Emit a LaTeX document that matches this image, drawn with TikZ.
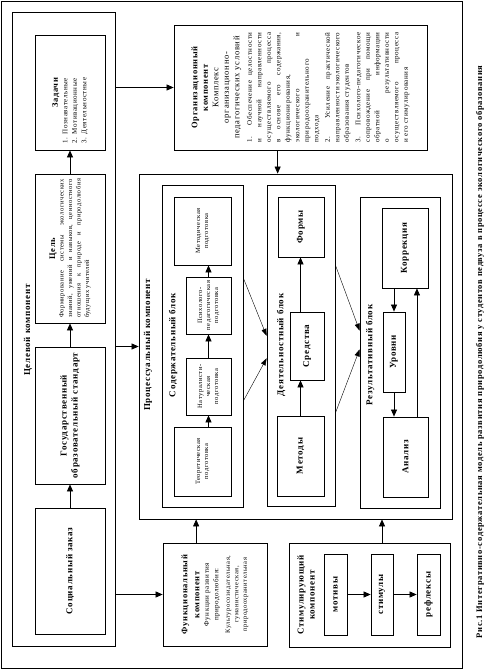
\documentclass[tikz,border=0pt]{standalone}
\usepackage{fontspec}
\setmainfont{Liberation Serif}[LetterSpace=8]
\usepackage{tikz}
\usetikzlibrary{arrows.meta}
\usetikzlibrary{calc}
\tikzset{
    comp_box/.style = {draw=black, line width=0.8pt, rectangle, inner sep=0pt},
    part_box/.style = {comp_box, align=center, font=\bfseries\fontsize{9}{11}\selectfont},
    small_box/.style = {comp_box, align=center, font=\fontsize{6.5}{8}\selectfont},
    head_text/.style = {inner sep=0pt, align=center, font=\bfseries\fontsize{9}{11}\selectfont},
    arr_main/.style = {-{Triangle[length=7pt, width=6pt]}, line width=0.7pt},
    arr_thin/.style = {-{Triangle[length=7pt, width=5pt]}, line width=0.4pt}
}

\begin{document}
\begin{tikzpicture}[x=1pt, y=1pt]
    \useasboundingbox (0,0) rectangle (498,670);
    \begin{scope}[shift={(498,0)}, rotate=90, transform shape]

    \node[comp_box, minimum width=667pt, minimum height=461pt] (frame) at (335.5,266.5) {};

    % goal component
    \node[comp_box, minimum width=634pt, minimum height=103pt] (goal) at (341,434.5) {};
    \node[head_text] (goal_title) at (340,470) {Целевой компонент};
    \node[part_box, minimum width=126pt, minimum height=70pt] (order) at (99,428) {Социальный заказ};
    \node[part_box, minimum width=137pt, minimum height=70pt] (standard) at (254.5,428)
        {Государственный\\образовательный стандарт};
    \node[comp_box, minimum width=149pt, minimum height=70pt, text width=139pt, align=justify,
        font=\fontsize{6.5}{8.5}\selectfont] (aim) at (421.5,428)
        {{\centering\fontsize{8.5}{11}\selectfont\textbf{Цель}\par}Формирование системы экологических знаний,
        умений и навыков, ценностного отношения к природе и природолюбия будущих учителей};
    \node[comp_box, minimum width=115pt, minimum height=70pt, text width=102pt, align=left,
        font=\fontsize{7}{9.5}\selectfont] (tasks) at (577.5,428)
        {{\centering\fontsize{8.5}{11}\selectfont\textbf{Задачи}\par}1. Познавательные\\2. Мотивационные\\3. Деятельностные};

    % organisational component
    \node[comp_box, minimum width=125pt, minimum height=253pt, text width=110pt, align=justify,
        font=\fontsize{7}{9.5}\selectfont] (org) at (582.5,197.5)
        {{\centering\fontsize{8.5}{10.5}\selectfont\textbf{Организационный\\компонент}\\Комплекс\\организационно-\\педагогических условий\par}
        \vspace{3pt}
        1. Обеспечение целостности и научной направленности осуществляемого процесса в основе его
        содержания, функционирования, экологического и природоохранительного подхода\par
        \vspace{2pt}
        2. Усиление практической направленности экологического образования студентов\par
        \vspace{2pt}
        3. Психолого-педагогическое сопровождение при помощи обратной информации о результативности
        осуществляемого процесса и его стимулирования};

    % process component
    \node[comp_box, minimum width=345pt, minimum height=313pt] (proc) at (323.5,202.5) {};
    \node[head_text] (proc_title) at (325,350) {Процессуальный компонент};

    \node[comp_box, minimum width=322pt, minimum height=81pt] (content) at (324,295.5) {};
    \node[head_text] (content_title) at (325,325) {Содержательный блок};
    \node[small_box, minimum width=69pt, minimum height=57pt] (theory) at (208.5,295.5) {Теоретическая\\подготовка};
    \node[small_box, minimum width=57pt, minimum height=45pt] (natural) at (283.5,289.5) {Натуралисти-\\ческая\\подготовка};
    \node[small_box, minimum width=57pt, minimum height=45pt] (psych) at (364.5,289.5) {Психолого-\\педагогическая\\подготовка};
    \node[small_box, minimum width=68pt, minimum height=57pt] (method) at (439,295.5) {Методическая\\подготовка};

    \node[comp_box, minimum width=321pt, minimum height=68pt] (activity) at (324.5,197) {};
    \node[head_text] (activity_title) at (325,217) {Деятельностный блок};
    \node[part_box, minimum width=80pt, minimum height=47pt] (methods) at (214,197.5) {Методы};
    \node[part_box, minimum width=68pt, minimum height=34pt] (means) at (324,191) {Средства};
    \node[part_box, minimum width=60pt, minimum height=46pt] (forms) at (443,197) {Формы};

    \node[comp_box, minimum width=311pt, minimum height=80pt] (result) at (317.5,98) {};
    \node[head_text] (result_title) at (315,128) {Результативный блок};
    \node[part_box, minimum width=80pt, minimum height=46pt] (correction) at (422,93) {Коррекция};
    \node[part_box, minimum width=80pt, minimum height=22pt] (levels) at (318,104) {Уровни};
    \node[part_box, minimum width=80pt, minimum height=45pt] (analysis) at (213,92.5) {Анализ};

    % functional and stimulating components
    \node[comp_box, minimum width=103pt, minimum height=104pt, text width=97pt, align=center,
        font=\fontsize{6.5}{8.5}\selectfont] (func) at (75.5,283)
        {{\fontsize{8.5}{12}\selectfont\textbf{Функциональный\\компонент}\par}
        {\fontsize{7}{9.5}\selectfont Функции развития\\природолюбия:\par}
        \vspace{3pt}
        Культуросозидательная,\\гуманистическая,\\природоохранительная};

    \node[comp_box, minimum width=104pt, minimum height=161pt] (stim) at (75,128.5) {};
    \node[head_text] (stim_title) at (75,192) {Стимулирующий\\компонент};
    \node[part_box, minimum width=81pt, minimum height=23pt] (motives) at (75.5,162.5) {мотивы};
    \node[part_box, minimum width=81pt, minimum height=22pt] (stimuli) at (75.5,116) {стимулы};
    \node[part_box, minimum width=81pt, minimum height=23pt] (reflexes) at (75.5,69.5) {рефлексы};

    \node[head_text, font=\bfseries\fontsize{8.5}{10}\selectfont] (caption) at (318,18) {Рис.1 Интегративно-содержательная модель развития
        природолюбия у студентов педвуза в процессе экологического образования};

    \draw[arr_main] (order.east) -- (standard.west);
    \draw[arr_main] (standard.east) -- (aim.west);
    \draw[arr_main] (aim.east) -- (tasks.west);

    \draw[arr_main] (org.north |- goal.south) -- (org.north);
    \draw[arr_main] (proc.north |- goal.south) -- (proc.north);
    \draw[arr_main] (func.north |- goal.south) -- (func.north);
    \coordinate (org_out) at ($(org.south west)!0.59!(org.north west)$);
    \draw[arr_main] (org_out) -- (proc.east |- org_out);
    \coordinate (func_out) at ($(func.south east)!0.68!(func.north east)$);
    \draw[arr_main] (func_out) -- (proc.west |- func_out);
    \draw[arr_main] (stim.east |- stimuli.center) -- (proc.west |- stimuli.center);

    \draw[arr_main] (theory.east |- natural.center) -- (natural.west);
    \draw[arr_main] (natural.east) -- (psych.west);
    \draw[arr_main] (psych.east) -- (method.west |- psych.center);

    \draw[arr_main] (methods.east) -- (means.west |- methods.center);
    \draw[arr_main] (means.east |- methods.center) -- (forms.west |- methods.center);

    \draw[arr_main] (correction.west |- levels.center) -- (levels.east);
    \draw[arr_main] (levels.west) -- (analysis.east |- levels.center);
    \coordinate (back_start) at ($(analysis.south east)!0.25!(analysis.north east)$);
    \draw[arr_main] (back_start) -- (correction.west |- back_start);

    \draw[arr_main] (motives.south) -- (stimuli.north);
    \draw[arr_main] (stimuli.south) -- (reflexes.north);

    \draw[arr_thin] ($(content.south west)!0.71!(content.south east)$) -- ($(activity.north west)!0.53!(activity.north east)$);
    \draw[arr_thin] ($(content.south west)!0.33!(content.south east)$) -- ($(activity.north west)!0.46!(activity.north east)$);
    \draw[arr_thin] ($(activity.south west)!0.75!(activity.south east)$) -- ($(result.north west)!0.57!(result.north east)$);
    \draw[arr_thin] ($(activity.south west)!0.29!(activity.south east)$) -- ($(result.north west)!0.51!(result.north east)$);

    \end{scope}
\end{tikzpicture}
\end{document}
